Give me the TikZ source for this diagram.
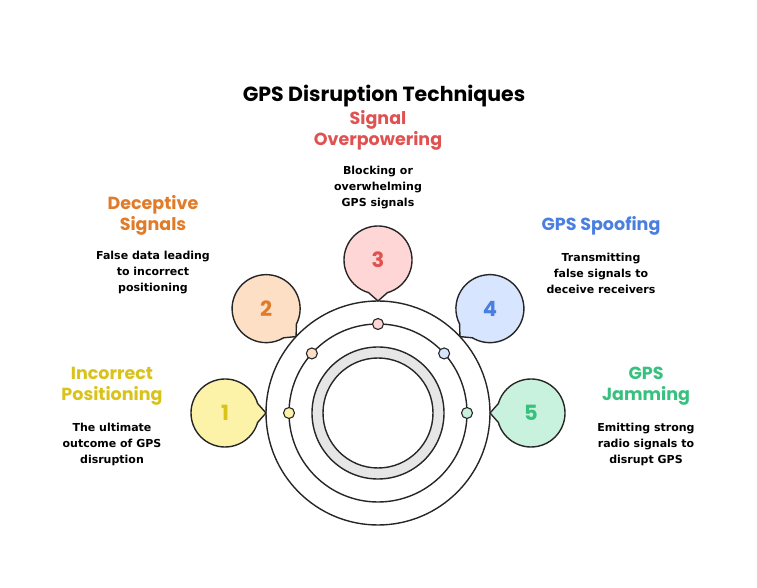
\documentclass[tikz,border=0pt]{standalone}
\usepackage{fontspec}
\setmainfont{Poppins}
\newfontfamily\bodyfont{DejaVu Sans}
\usetikzlibrary{calc}
\definecolor{ylwtext}{HTML}{D9C21A}
\definecolor{ylwfill}{HTML}{FCF3A8}
\definecolor{orgtext}{HTML}{E07B2A}
\definecolor{orgfill}{HTML}{FDDFC6}
\definecolor{redtext}{HTML}{E05252}
\definecolor{redfill}{HTML}{FFD6D6}
\definecolor{blutext}{HTML}{4A7FE0}
\definecolor{blufill}{HTML}{D8E5FF}
\definecolor{grntext}{HTML}{38C07E}
\definecolor{grnfill}{HTML}{C8F2DD}
\definecolor{ringgray}{HTML}{E6E6E6}
\tikzset{
  bubble/.style={draw=black!85, line width=1.4pt, line join=round},
  heading/.style={font=\fontsize{17.5}{21}\selectfont\bfseries, align=center},
  desc/.style={font=\bodyfont\fontsize{11}{16}\selectfont\bfseries, align=center},
  dotmark/.style={circle, draw=black!85, line width=1.1pt, minimum size=11pt, inner sep=0pt}
}
\begin{document}
\begin{tikzpicture}[x=1pt,y=1pt]
\useasboundingbox (0,0) rectangle (757,588);
\coordinate (c) at (378,175);
% rings
\draw[line width=1.4pt, black!85] (c) circle[radius=112];
\draw[line width=1.4pt, black!85] (c) circle[radius=89];
\draw[line width=1.4pt, black!85, fill=ringgray, even odd rule] (c) circle[radius=66] (c) circle[radius=55];
% bubbles and dots
\foreach \a/\d/\tc/\fc/\n in {180/180/ylwtext/ylwfill/1, 137/138/orgtext/orgfill/2, 90/90/redtext/redfill/3, 43/42/blutext/blufill/4, 0/0/grntext/grnfill/5}{
  \coordinate (b\n) at ($(c)+(\a:153)$);
  \coordinate (t\n) at ($(c)+(\a:112)$);
  \draw[bubble, fill=\fc] (t\n) -- ($(b\n)+(\a+180+16:34)$)
    arc[start angle=\a+180+16, end angle=\a+180+344, radius=34] -- cycle;
  \node[font=\fontsize{21}{24}\selectfont\bfseries, text=\tc] (n\n) at (b\n) {\n};
  \node[dotmark, fill=\fc] (d\n) at ($(c)+(\d:89)$) {};
}
% texts
\node[font=\fontsize{20.5}{24}\selectfont\bfseries] (title) at (384,492) {GPS Disruption Techniques};
\node[heading, text=redtext] (h3) at (378,458) {Signal\\Overpowering};
\node[desc] (s3) at (378,400) {Blocking or\\overwhelming\\GPS signals};
\node[heading, text=orgtext] (h2) at (153,373) {Deceptive\\Signals};
\node[desc] (s2) at (153,315) {False data leading\\to incorrect\\positioning};
\node[heading, text=blutext] (h4) at (601,362) {GPS Spoofing};
\node[desc] (s4) at (601,315) {Transmitting\\false signals to\\deceive receivers};
\node[heading, text=ylwtext] (h1) at (112,202) {Incorrect\\Positioning};
\node[desc] (s1) at (112,144) {The ultimate\\outcome of GPS\\disruption};
\node[heading, text=grntext] (h5) at (646,202) {GPS\\Jamming};
\node[desc] (s5) at (646,144) {Emitting strong\\radio signals to\\disrupt GPS};
\end{tikzpicture}
\end{document}
